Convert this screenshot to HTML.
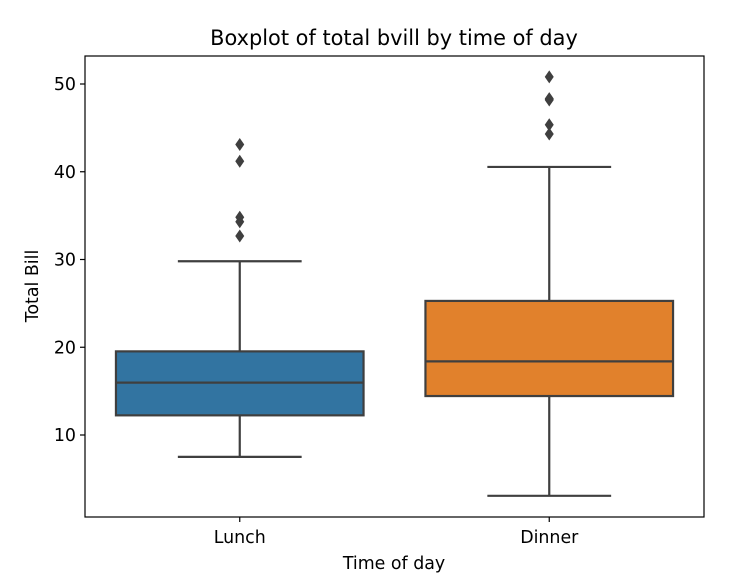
<!DOCTYPE html>
<html><head><meta charset="utf-8"><style>
body{margin:0;background:#fff;}
svg{display:block;font-family:"DejaVu Sans","Liberation Sans",sans-serif;}
</style></head><body>
<svg id="chart" width="738" height="576">
<rect x="0" y="0" width="738" height="576" fill="#fff"/>
<text x="394" y="45" font-size="20.9" text-anchor="middle">Boxplot of total bvill by time of day</text>
<g id="yticks"></g>
<g id="boxes"></g>
<rect x="85" y="56" width="619" height="461" fill="none" stroke="#000" stroke-width="1.2"/>
<text x="394" y="569" font-size="17.4" text-anchor="middle">Time of day</text>
<text transform="translate(38,286) rotate(-90)" font-size="17.4" text-anchor="middle">Total Bill</text>
</svg>
<script>
const categories=["Lunch","Dinner"];
const whiskerLow=[7.51,3.07];
const q1=[12.24,14.44];
const medians=[15.97,18.39];
const q3=[19.53,25.28];
const whiskerHigh=[29.8,40.55];
const outliers=[[32.68,34.3,34.81,41.19,43.11],[44.3,45.35,48.17,48.27,48.33,50.81]];
const yTicks=[10,20,30,40,50];
const colors=["#3274a1","#e1812c"];
const NS="http://www.w3.org/2000/svg";
const left=85,right=704;
function y(v){return 522.75-v*8.775;}
const band=(right-left)/categories.length;
function xc(i){return left+band*(i+0.5);}
function mk(t,a,p){const e=document.createElementNS(NS,t);for(const k in a)e.setAttribute(k,a[k]);p.appendChild(e);return e;}
const yt=document.getElementById('yticks');
yTicks.forEach(v=>{
 const l=mk('line',{x1:left-5,x2:left,y1:y(v),y2:y(v),stroke:'#000','stroke-width':1.2},yt);
 
 
 const t=mk('text',{x:left-9,y:y(v)+6,'font-size':17.4,'text-anchor':'end'},yt);
 t.textContent=v;
 
 
});
const bx=document.getElementById('boxes');
const lc='#3f3f3f';
categories.forEach((c,i)=>{
 const cx=xc(i),w=band*0.8,cap=w/2;
 const g=mk('g',{},bx);
 
 
 mk('line',{x1:cx,x2:cx,y1:y(whiskerLow[i]),y2:y(q1[i]),stroke:lc,'stroke-width':2.2},g);
 mk('line',{x1:cx,x2:cx,y1:y(q3[i]),y2:y(whiskerHigh[i]),stroke:lc,'stroke-width':2.2},g);
 mk('line',{x1:cx-cap/2,x2:cx+cap/2,y1:y(whiskerLow[i]),y2:y(whiskerLow[i]),stroke:lc,'stroke-width':2.2},g);
 mk('line',{x1:cx-cap/2,x2:cx+cap/2,y1:y(whiskerHigh[i]),y2:y(whiskerHigh[i]),stroke:lc,'stroke-width':2.2},g);
 mk('rect',{x:cx-w/2,y:y(q3[i]),width:w,height:y(q1[i])-y(q3[i]),fill:colors[i],stroke:lc,'stroke-width':2.2},g);
 mk('line',{x1:cx-w/2,x2:cx+w/2,y1:y(medians[i]),y2:y(medians[i]),stroke:lc,'stroke-width':2.2},g);
 outliers[i].forEach(v=>{
  const d=mk('path',{d:`M${cx},${y(v)-6.5}L${cx+4.5},${y(v)}L${cx},${y(v)+6.5}L${cx-4.5},${y(v)}Z`,fill:lc},g);
  
  
 });
 mk('line',{x1:cx,x2:cx,y1:517,y2:522,stroke:'#000','stroke-width':1.2},bx);
 const t=mk('text',{x:cx,y:543,'font-size':17.4,'text-anchor':'middle'},bx);
 t.textContent=c;
 
 
});
</script>
</body></html>
